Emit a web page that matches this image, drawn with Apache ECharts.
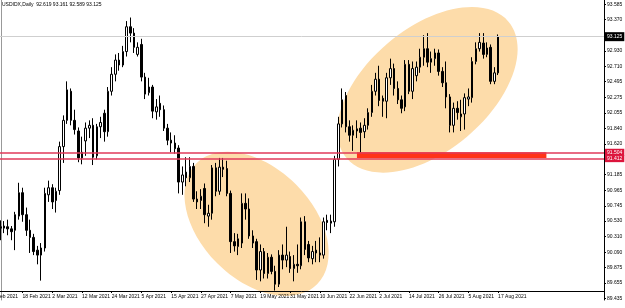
<!DOCTYPE html>
<html><head><meta charset="utf-8">
<script src="https://cdn.jsdelivr.net/npm/echarts@6/dist/echarts.min.js"></script>
<style>html,body{margin:0;padding:0;background:#fff}#c{width:625px;height:308px}</style>
</head><body><div id="c"></div>
<script>
// ---- data (Feb 8 2021 .. Aug 17 2021, daily, weekdays) ----
const ohlcOpen = [90.98,90.92,90.45,90.43,90.45,90.42,90.40,90.60,90.93,90.62,90.40,90.30,90.12,90.05,90.15,90.90,91.00,90.82,90.96,91.58,
91.95,92.36,91.95,91.80,91.42,91.66,91.84,91.88,91.45,91.86,92.05,91.79,92.36,92.60,92.80,92.73,92.92,93.27,93.18,92.88,
93.02,92.56,92.34,92.42,92.07,92.19,92.10,91.84,91.67,91.63,91.56,91.08,91.22,91.14,91.30,90.84,90.82,90.99,90.60,90.64,
91.28,90.95,91.29,91.27,90.92,90.24,90.17,90.22,90.78,90.70,90.32,90.24,89.84,90.10,89.79,90.02,89.82,89.64,90.05,89.98,
90.03,89.86,89.92,89.90,90.52,90.20,90.00,90.12,90.08,90.05,90.54,90.50,90.52,91.40,91.90,92.30,91.86,91.74,91.83,91.84,
91.79,91.88,92.06,92.36,92.53,92.26,92.22,92.55,92.68,92.40,92.24,92.14,92.74,92.36,92.58,92.70,92.84,92.96,92.77,92.82,
92.90,92.64,92.48,92.28,91.88,92.12,92.00,92.04,92.25,92.27,92.78,92.96,93.04,92.88,92.98,92.50,92.619];
const ohlcClose = [90.92,90.45,90.43,90.46,90.42,90.38,90.62,90.93,90.62,90.40,90.30,90.10,90.05,90.15,90.92,91.00,90.80,90.95,91.58,91.95,
92.38,91.95,91.82,91.42,91.50,91.84,91.88,91.43,91.86,91.92,91.79,92.36,92.60,92.80,92.73,92.92,93.27,93.18,92.98,92.98,
92.56,92.32,92.42,92.08,92.14,92.10,91.84,91.67,91.63,91.55,91.08,91.18,91.14,91.30,90.84,90.80,90.88,90.62,90.64,91.28,
90.95,91.29,91.26,90.92,90.24,90.18,90.28,90.78,90.70,90.32,90.22,89.84,90.10,89.79,90.02,89.82,89.64,90.05,89.98,90.05,
89.86,89.92,89.90,90.52,90.13,90.01,90.10,90.08,90.05,90.52,90.51,90.53,91.40,91.90,92.24,91.86,91.74,91.81,91.80,91.78,
91.88,92.06,92.36,92.53,92.23,92.22,92.55,92.68,92.40,92.24,92.12,92.74,92.36,92.68,92.70,92.84,92.96,92.77,92.82,92.90,
92.64,92.48,92.28,91.88,92.12,92.06,92.04,92.27,92.28,92.78,92.96,93.05,92.88,92.97,92.50,92.62,93.125];
const ohlcLow = [90.85,90.40,90.26,90.36,90.33,90.26,90.12,90.55,90.52,90.32,90.08,90.05,89.92,89.69,90.10,90.80,90.70,90.65,90.90,91.35,
91.90,91.88,91.75,91.36,91.33,91.45,91.70,91.32,91.40,91.70,91.65,91.72,92.30,92.50,92.65,92.70,92.85,93.05,92.90,92.85,
92.50,92.25,92.30,91.98,91.96,92.00,91.80,91.60,91.50,91.48,90.92,90.90,91.02,91.08,90.80,90.70,90.70,90.50,90.45,90.55,
90.88,90.90,91.15,90.88,90.08,90.10,90.05,90.15,90.55,90.28,90.15,89.70,89.68,89.72,89.72,89.78,89.55,89.60,89.85,89.88,
89.80,89.68,89.80,89.85,90.05,89.95,89.92,89.95,89.95,90.00,90.40,90.36,90.45,91.30,91.85,91.78,91.65,91.52,91.70,91.50,
91.70,91.82,92.00,92.30,92.15,92.00,91.98,92.45,92.30,92.18,92.05,92.08,92.32,92.25,92.50,92.62,92.72,92.70,92.62,92.72,
92.58,92.42,92.12,91.78,91.78,91.96,91.80,91.82,92.15,92.20,92.74,92.92,92.82,92.84,92.46,92.46,92.589];
const ohlcHigh = [91.05,90.95,90.54,90.53,90.55,90.46,90.66,91.07,91.00,90.72,90.55,90.35,90.18,90.22,91.00,91.10,91.05,91.00,91.65,92.02,
92.50,92.40,92.10,91.85,91.72,91.92,91.95,91.98,91.90,92.00,92.10,92.42,92.70,92.88,92.90,93.00,93.35,93.40,93.25,93.05,
93.10,92.62,92.55,92.45,92.25,92.30,92.16,91.90,91.78,91.74,91.60,91.30,91.43,91.43,91.35,90.95,90.98,91.06,90.76,91.32,
91.35,91.42,91.42,91.38,90.96,90.36,90.35,90.92,90.92,90.85,90.40,90.28,90.20,90.15,90.08,90.06,89.90,90.12,90.20,90.45,
90.10,90.05,90.20,90.58,90.60,90.25,90.18,90.25,90.30,90.58,90.62,90.62,91.45,92.00,92.40,92.35,91.95,91.88,91.95,91.92,
91.98,92.12,92.45,92.62,92.72,92.30,92.62,92.82,92.75,92.50,92.30,92.80,92.80,92.78,92.78,92.96,93.15,93.18,92.92,92.96,
92.95,92.70,92.78,92.32,92.20,92.22,92.24,92.33,92.40,92.84,93.05,93.18,93.18,93.05,93.02,92.70,93.161];
const yTickValues = [93.585,93.370,92.930,92.710,92.495,92.275,92.055,91.840,91.620,91.185,90.965,90.745,90.530,90.310,90.090,89.875,89.655,89.435];
const lastPrice = 93.125;
const levelLines = [91.504, 91.412];
const titleText = 'USDIDX,Daily  92.619 93.161 92.589 93.125';

// ---- categories: weekdays from 8 Feb 2021 (incl. empty future bars for the chart shift) ----
const months = ['Jan','Feb','Mar','Apr','May','Jun','Jul','Aug','Sep','Oct','Nov','Dec'];
const categories = [];
(function(){ const d = new Date(Date.UTC(2021,1,8));
  while (categories.length < 165) { const w = d.getUTCDay();
    if (w !== 0 && w !== 6) categories.push(d.getUTCDate()+' '+months[d.getUTCMonth()]+' '+d.getUTCFullYear());
    d.setUTCDate(d.getUTCDate()+1); } })();
const lastBar = ohlcOpen.length - 1;

// annotations (ellipses: centre bar/price, radii in bars, rotation)
const ellipses = [
  {cat: 71, price: 90.49, rx: 23, ry: 15, rot: -Math.PI/4},
  {cat: 117, price: 92.38, rx: 28.5, ry: 16.5, rot: 0.70}
];
const rectBox = {from: 98, to: 149, top: 91.50, bottom: 91.42};

const candles = ohlcOpen.map((o,i)=>[o, ohlcClose[i], ohlcLow[i], ohlcHigh[i]]);
const labelInterval = (i)=> i % 8 === 0 && i <= lastBar;
const FONT = 'Liberation Sans';

const chart = echarts.init(document.getElementById('c'), null, {renderer:'canvas'});
chart.setOption({
  animation: false,
  backgroundColor: '#fff',
  title: {text: titleText, left: 2, top: 2, padding: 0,
    textStyle: {fontSize: 5, fontWeight: 'normal', color: '#000', fontFamily: FONT}},
  grid: {left: -9, right: 21, top: 0, bottom: 8, containLabel: false, outerBoundsMode: 'none'},
  xAxis: {type: 'category', data: categories, boundaryGap: true, offset: -9,
    axisLine: {lineStyle: {color: '#000', width: 1}},
    axisTick: {show: true, alignWithLabel: true, interval: labelInterval, length: 2, lineStyle: {color: '#000'}},
    axisLabel: {interval: labelInterval, align: 'left', fontSize: 5, margin: 3, color: '#000', fontFamily: FONT},
    splitLine: {show: false}},
  yAxis: [
    {type: 'value', position: 'right', min: 89.417, max: 93.647,
      axisLine: {show: true, lineStyle: {color: '#000', width: 1}},
      axisTick: {show: true, customValues: yTickValues, length: 2, lineStyle: {color: '#000'}},
      axisLabel: {customValues: yTickValues, formatter: v => v.toFixed(3), fontSize: 5, margin: 3, color: '#000', fontFamily: FONT},
      splitLine: {show: false}},
    {type: 'value', position: 'left', offset: -10, min: 89.417, max: 93.647,
      axisLine: {show: true, lineStyle: {color: '#999', width: 1}},
      axisTick: {show: false}, axisLabel: {show: false}, splitLine: {show: false}}
  ],
  series: [
    {type: 'custom', z: 0, silent: true, coordinateSystem: 'cartesian2d',
      data: ellipses.map(e => [e.cat, e.price]),
      renderItem: function(params, api){
        const e = ellipses[params.dataIndex];
        const c = api.coord([api.value(0), api.value(1)]);
        const bw = api.size([1, 0])[0];
        return {type: 'ellipse', x: c[0], y: c[1], rotation: e.rot,
          shape: {cx: 0, cy: 0, rx: e.rx * bw, ry: e.ry * bw},
          style: {fill: '#fddcaa'}};
      }},
    {type: 'candlestick', z: 3, data: candles, barWidth: 2,
      itemStyle: {color: '#fff', color0: '#000', borderColor: '#000', borderColor0: '#000', borderWidth: 1},
      markArea: {silent: true, itemStyle: {color: '#ff3318'},
        data: [[{xAxis: categories[rectBox.from], yAxis: rectBox.top}, {xAxis: categories[rectBox.to], yAxis: rectBox.bottom}]]},
      markLine: {symbol: 'none', silent: true, animation: false,
        data: [
          {yAxis: lastPrice, lineStyle: {color: '#cfcfcf', width: 1, type: 'solid'},
            label: {show: true, position: 'end', distance: 1, formatter: lastPrice.toFixed(3), backgroundColor: '#000', color: '#fff', fontSize: 5, padding: [2, 2], fontFamily: FONT}},
          ...levelLines.map(v => ({yAxis: v, lineStyle: {color: '#e03a5a', width: 1.5, type: 'solid'},
            label: {show: true, position: 'end', distance: 1, formatter: v.toFixed(3), backgroundColor: '#dc143c', color: '#fff', fontSize: 5, padding: [1, 2], fontFamily: FONT}}))
        ]}}
  ]
});
</script>
</body></html>
